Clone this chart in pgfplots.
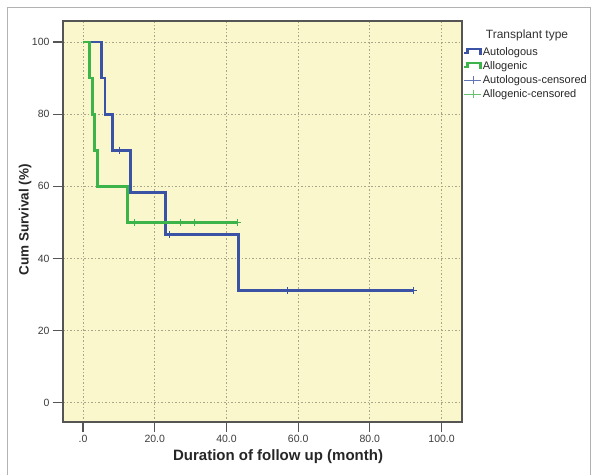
\documentclass[border=0pt]{standalone}
\usepackage{fontspec}
\setmainfont{Liberation Sans}
\usepackage{pgfplots}
\pgfplotsset{compat=1.18}
\definecolor{kmblue}{RGB}{58,83,165}
\definecolor{kmgreen}{RGB}{60,180,74}
\definecolor{bgyellow}{RGB}{250,247,204}
\definecolor{gridc}{RGB}{165,165,135}
\definecolor{axc}{RGB}{85,85,85}
\definecolor{txt}{RGB}{60,60,60}
\pgfplotsset{
  steplegend/.style={legend image code/.code={\draw[##1] (0pt,-1pt) -- (3pt,-1pt) -- (3pt,3.5pt) -- (16pt,3.5pt) -- (16pt,-3pt);}},
  censlegend/.style={legend image code/.code={\draw[mark repeat=2,mark phase=2,##1] plot coordinates {(0pt,0pt) (8.5pt,0pt) (17pt,0pt)};}},
}
\begin{document}
\begin{tikzpicture}[x=1pt,y=1pt]
\useasboundingbox (0,0) rectangle (594,474);
\draw[gray!60, line width=1pt] (7,-10) -- (7,466) -- (590,466) -- (590,-10);
\begin{axis}[
  at={(63pt,52pt)}, anchor=south west, scale only axis,
  width=399pt, height=401pt,
  xmin=-5.6, xmax=105.7, ymin=-5.3, ymax=105.8,
  axis background/.style={fill=bgyellow},
  axis line style={axc, line width=1.6pt},
  xtick={0,20,40,60,80,100}, xticklabels={.0,20.0,40.0,60.0,80.0,100.0},
  ytick={0,20,40,60,80,100},
  tick align=outside, major tick length=10pt,
  tick style={axc, line width=1.2pt},
  xtick pos=bottom, ytick pos=left,
  grid=major, major grid style={gridc, dash pattern=on 1.5pt off 2pt, line width=0.8pt},
  tick label style={font=\fontsize{10.5}{12}\selectfont, text=txt},
  /pgf/number format/assume math mode=true,
  xlabel={Duration of follow up (month)},
  ylabel={Cum Survival (\%)},
  xlabel style={at={(axis description cs:0.539,-0.087)}, anchor=center, font=\bfseries\fontsize{15}{17}\selectfont, text=black!85},
  ylabel style={at={(axis description cs:-0.095,0.504)}, anchor=center, rotate=0, font=\bfseries\fontsize{13.5}{16}\selectfont, text=black!85},
  legend style={at={(axis description cs:1.0025,0.94)}, anchor=north west, draw=none, fill=none,
    font=\fontsize{11}{13}\selectfont, text=black!85, row sep=0pt, inner sep=0pt,
    nodes={inner sep=1pt, text height=9pt, text depth=3pt}},
  legend cell align=left,
  clip=false,
]
% Autologous
\addplot[kmblue, line width=2.8pt, const plot, forget plot] coordinates {
  (0,100) (5.1,90) (6.1,80) (8.2,70) (13.2,58.33) (23.1,46.67) (43.3,31.11) (92.3,31.11)
};
% Allogenic
\addplot[kmgreen, line width=2.8pt, const plot, forget plot] coordinates {
  (0,100) (1.7,90) (2.6,80) (3.2,70) (4.1,60) (12.4,50) (43.2,50)
};
% censored
\addplot[kmblue, only marks, mark=+, mark size=3.5pt, mark options={line width=1pt}, forget plot] coordinates {
  (10.1,70) (24.2,46.67) (57.1,31.11) (92.3,31.11)
};
\addplot[kmgreen, only marks, mark=+, mark size=3.5pt, mark options={line width=1pt}, forget plot] coordinates {
  (14.3,50) (27.2,50) (31.2,50) (43.2,50)
};
\addlegendimage{kmblue, line width=2.4pt, steplegend}
\addlegendentry{Autologous}
\addlegendimage{kmgreen, line width=2.4pt, steplegend}
\addlegendentry{Allogenic}
\addlegendimage{kmblue!80, line width=0.8pt, mark=+, mark size=4pt, censlegend}
\addlegendentry{Autologous-censored}
\addlegendimage{kmgreen!80, line width=0.8pt, mark=+, mark size=4pt, censlegend}
\addlegendentry{Allogenic-censored}
\node[font=\fontsize{12}{14}\selectfont, text=black!80, anchor=center] at (axis description cs:1.163,0.965) {Transplant type};
\end{axis}
\end{tikzpicture}
\end{document}
